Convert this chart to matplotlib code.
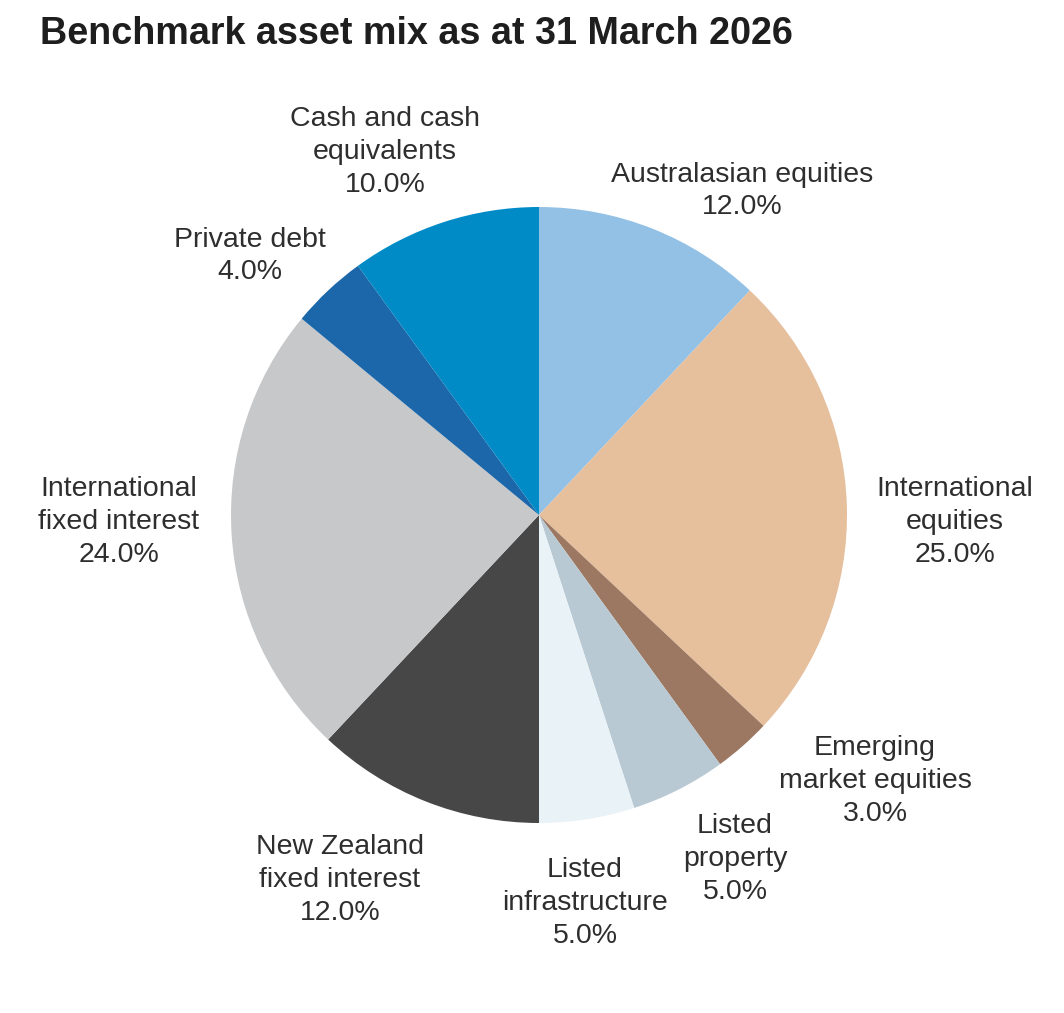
import matplotlib
matplotlib.use("Agg")
import matplotlib.pyplot as plt

# ---- data ----
categories = [
    "Australasian equities",
    "International\nequities",
    "Emerging\nmarket equities",
    "Listed\nproperty",
    "Listed\ninfrastructure",
    "New Zealand\nfixed interest",
    "International\nfixed interest",
    "Private debt",
    "Cash and cash\nequivalents",
]
values = [12.0, 25.0, 3.0, 5.0, 5.0, 12.0, 24.0, 4.0, 10.0]
colors = ["#93c1e5", "#e6bf9d", "#9c7862", "#b8c9d4", "#e9f2f6",
          "#474747", "#c7c8ca", "#1b67a9", "#008bc7"]
title = "Benchmark asset mix as at 31 March 2026"

# ---- layout (label anchor positions, pixels from top-left) ----
label_pos = [(742, 191), (955, 522), (875, 781), (735, 859), (585, 903),
             (340, 880), (119, 522), (250, 256), (385, 152)]

W, H = 1064, 1013
fig = plt.figure(figsize=(W / 100, H / 100), dpi=100)
ax = fig.add_axes([0, 0, 1, 1])

cx, cy, r = 539, 515, 308
ax.pie(values, colors=colors, startangle=90, counterclock=False,
       center=(cx, H - cy), radius=r, frame=True,
       wedgeprops=dict(linewidth=0))
ax.set_xlim(0, W)
ax.set_ylim(0, H)
ax.set_aspect("equal")
ax.axis("off")

fam = ["Liberation Sans", "DejaVu Sans"]
for cat, v, (lx, ly) in zip(categories, values, label_pos):
    ax.text(lx, H - ly, f"{cat}\n{v:.1f}%", ha="center", va="center",
            fontsize=20.5, color="#2e2e2e", linespacing=1.34, family=fam)

ax.text(40, H - 34, title, ha="left", va="center", fontsize=27.2,
        fontweight="bold", color="#1e1e1e", family=fam)

fig.savefig("out.png", dpi=100)
